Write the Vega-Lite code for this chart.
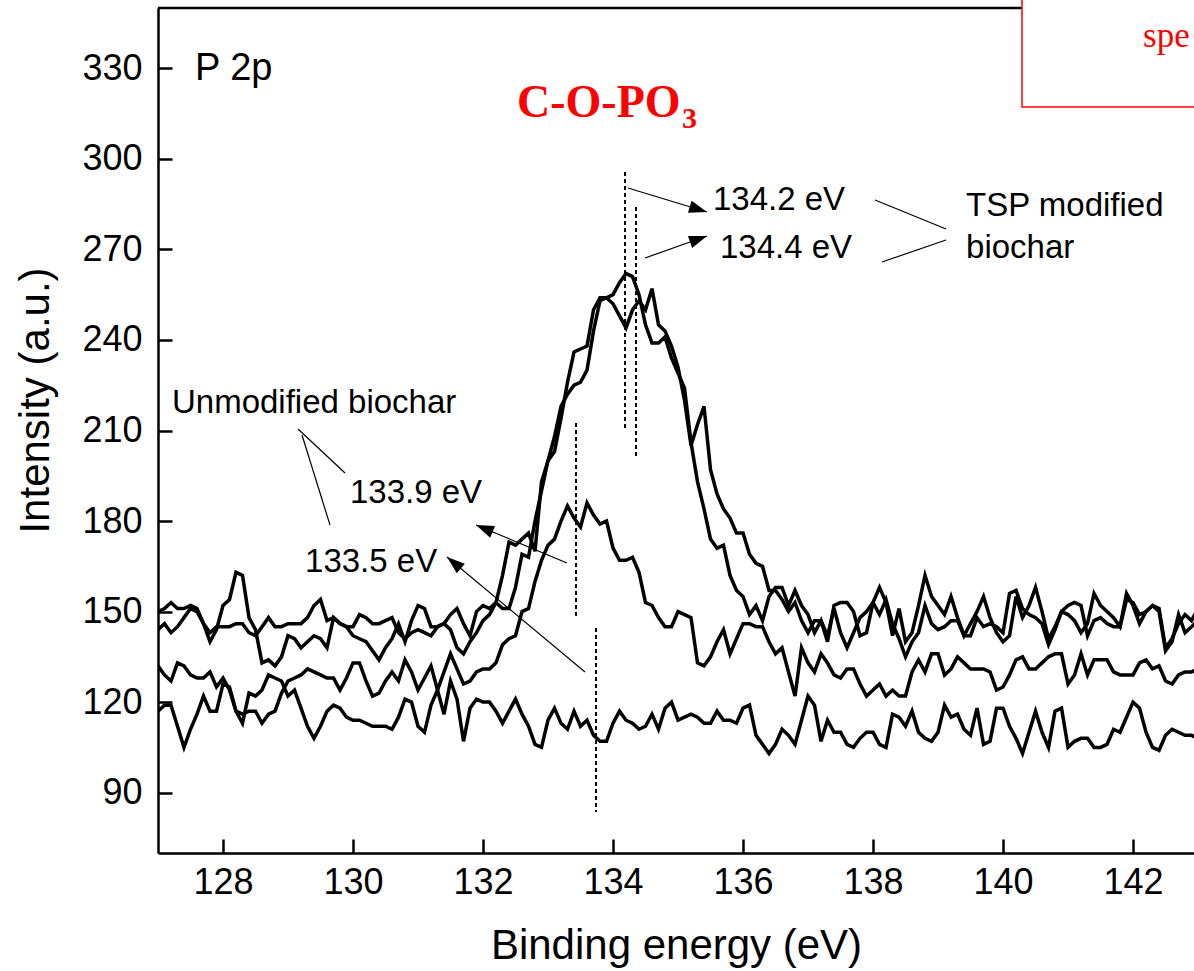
{
  "$schema": "https://vega.github.io/schema/vega-lite/v6.json",
  "width": 1036,
  "height": 845,
  "autosize": {"type": "none"},
  "padding": {"left": 158, "top": 8, "right": 0, "bottom": 118},
  "background": "white",
  "view": {"stroke": null},
  "config": {"font": "Liberation Sans"},
  "datasets": {
    "spec": [
      {"e":127.0,"a":150,"b":144,"c":132,"d":117},{"e":127.1,"a":151,"b":146,"c":129,"d":119},{"e":127.2,"a":153,"b":143,"c":127,"d":119},{"e":127.3,"a":151,"b":145,"c":133,"d":112},{"e":127.4,"a":151,"b":148,"c":132,"d":105},{"e":127.5,"a":152,"b":151,"c":129,"d":111},{"e":127.6,"a":151,"b":150,"c":128,"d":116},{"e":127.7,"a":146,"b":146,"c":128,"d":122},{"e":127.8,"a":140,"b":143,"c":130,"d":117},{"e":127.9,"a":144,"b":145,"c":125,"d":117},
      {"e":128.0,"a":152,"b":145,"c":128,"d":126},{"e":128.1,"a":154,"b":145,"c":124,"d":125},{"e":128.2,"a":163,"b":146,"c":117,"d":117},{"e":128.3,"a":162,"b":146,"c":116,"d":113},{"e":128.4,"a":148,"b":143,"c":117,"d":123},{"e":128.5,"a":144,"b":142,"c":117,"d":122},{"e":128.6,"a":133,"b":145,"c":113,"d":124},{"e":128.7,"a":134,"b":148,"c":116,"d":129},{"e":128.8,"a":132,"b":145,"c":117,"d":128},{"e":128.9,"a":135,"b":145,"c":123,"d":127},
      {"e":129.0,"a":142,"b":146,"c":127,"d":122},{"e":129.1,"a":141,"b":146,"c":128,"d":124},{"e":129.2,"a":138,"b":146,"c":129,"d":118},{"e":129.3,"a":140,"b":148,"c":131,"d":112},{"e":129.4,"a":142,"b":152,"c":130,"d":108},{"e":129.5,"a":141,"b":154,"c":129,"d":112},{"e":129.6,"a":138,"b":147,"c":128,"d":117},{"e":129.7,"a":148,"b":148,"c":128,"d":119},{"e":129.8,"a":146,"b":146,"c":124,"d":118},{"e":129.9,"a":145,"b":145,"c":128,"d":115},
      {"e":130.0,"a":142,"b":145,"c":133,"d":114},{"e":130.1,"a":141,"b":149,"c":133,"d":114},{"e":130.2,"a":140,"b":148,"c":127,"d":113},{"e":130.3,"a":137,"b":146,"c":122,"d":112},{"e":130.4,"a":134,"b":146,"c":123,"d":112},{"e":130.5,"a":138,"b":147,"c":127,"d":112},{"e":130.6,"a":141,"b":148,"c":130,"d":111},{"e":130.7,"a":146,"b":143,"c":127,"d":115},{"e":130.8,"a":140,"b":141,"c":134,"d":121},{"e":130.9,"a":147,"b":143,"c":130,"d":120},
      {"e":131.0,"a":152,"b":144,"c":124,"d":112},{"e":131.1,"a":151,"b":143,"c":128,"d":110},{"e":131.2,"a":145,"b":142,"c":132,"d":119},{"e":131.3,"a":145,"b":145,"c":124,"d":124},{"e":131.4,"a":146,"b":146,"c":130,"d":116},{"e":131.5,"a":149,"b":144,"c":136,"d":127},{"e":131.6,"a":151,"b":138,"c":131,"d":121},{"e":131.7,"a":146,"b":136,"c":126,"d":107},{"e":131.8,"a":142,"b":140,"c":127,"d":118},{"e":131.9,"a":150,"b":143,"c":130,"d":121},
      {"e":132.0,"a":152,"b":147,"c":131,"d":120},{"e":132.1,"a":151,"b":149,"c":131,"d":120},{"e":132.2,"a":153,"b":153,"c":133,"d":117},{"e":132.3,"a":162,"b":151,"c":139,"d":113},{"e":132.4,"a":173,"b":151,"c":141,"d":117},{"e":132.5,"a":172,"b":158,"c":142,"d":121},{"e":132.6,"a":174,"b":169,"c":150,"d":116},{"e":132.7,"a":176,"b":168,"c":151,"d":112},{"e":132.8,"a":170,"b":180,"c":160,"d":106},{"e":132.9,"a":193,"b":190,"c":167,"d":105},
      {"e":133.0,"a":200,"b":200,"c":172,"d":114},{"e":133.1,"a":203,"b":208,"c":174,"d":118},{"e":133.2,"a":214,"b":218,"c":180,"d":113},{"e":133.3,"a":226,"b":222,"c":185,"d":111},{"e":133.4,"a":236,"b":225,"c":181,"d":117},{"e":133.5,"a":237,"b":226,"c":178,"d":112},{"e":133.6,"a":238,"b":230,"c":186,"d":114},{"e":133.7,"a":250,"b":243,"c":182,"d":109},{"e":133.8,"a":254,"b":253,"c":179,"d":107},{"e":133.9,"a":254,"b":254,"c":180,"d":107},
      {"e":134.0,"a":255,"b":252,"c":171,"d":113},{"e":134.1,"a":259,"b":248,"c":167,"d":117},{"e":134.2,"a":262,"b":244,"c":167,"d":114},{"e":134.3,"a":261,"b":250,"c":168,"d":113},{"e":134.4,"a":255,"b":253,"c":163,"d":111},{"e":134.5,"a":245,"b":250,"c":153,"d":112},{"e":134.6,"a":239,"b":257,"c":152,"d":116},{"e":134.7,"a":239,"b":245,"c":148,"d":111},{"e":134.8,"a":241,"b":243,"c":145,"d":118},{"e":134.9,"a":234,"b":238,"c":145,"d":120},
      {"e":135.0,"a":229,"b":231,"c":150,"d":114},{"e":135.1,"a":224,"b":220,"c":149,"d":115},{"e":135.2,"a":206,"b":205,"c":148,"d":116},{"e":135.3,"a":193,"b":212,"c":133,"d":115},{"e":135.4,"a":184,"b":218,"c":132,"d":113},{"e":135.5,"a":174,"b":197,"c":135,"d":113},{"e":135.6,"a":171,"b":189,"c":140,"d":117},{"e":135.7,"a":172,"b":184,"c":144,"d":114},{"e":135.8,"a":162,"b":181,"c":136,"d":114},{"e":135.9,"a":157,"b":176,"c":141,"d":113},
      {"e":136.0,"a":155,"b":176,"c":146,"d":118},{"e":136.1,"a":149,"b":169,"c":146,"d":119},{"e":136.2,"a":152,"b":166,"c":145,"d":109},{"e":136.3,"a":147,"b":165,"c":145,"d":106},{"e":136.4,"a":155,"b":157,"c":140,"d":103},{"e":136.5,"a":158,"b":157,"c":136,"d":106},{"e":136.6,"a":158,"b":154,"c":138,"d":111},{"e":136.7,"a":152,"b":150,"c":130,"d":109},{"e":136.8,"a":157,"b":153,"c":122,"d":106},{"e":136.9,"a":152,"b":147,"c":138,"d":114},
      {"e":137.0,"a":149,"b":143,"c":133,"d":122},{"e":137.1,"a":143,"b":147,"c":130,"d":119},{"e":137.2,"a":147,"b":147,"c":136,"d":107},{"e":137.3,"a":140,"b":142,"c":133,"d":114},{"e":137.4,"a":152,"b":151,"c":129,"d":110},{"e":137.5,"a":153,"b":143,"c":128,"d":110},{"e":137.6,"a":153,"b":138,"c":131,"d":106},{"e":137.7,"a":150,"b":143,"c":131,"d":105},{"e":137.8,"a":142,"b":148,"c":126,"d":108},{"e":137.9,"a":143,"b":150,"c":122,"d":110},
      {"e":138.0,"a":153,"b":153,"c":124,"d":110},{"e":138.1,"a":158,"b":149,"c":126,"d":106},{"e":138.2,"a":153,"b":154,"c":122,"d":105},{"e":138.3,"a":142,"b":146,"c":124,"d":116},{"e":138.4,"a":151,"b":141,"c":122,"d":115},{"e":138.5,"a":140,"b":135,"c":122,"d":112},{"e":138.6,"a":143,"b":140,"c":130,"d":117},{"e":138.7,"a":152,"b":143,"c":134,"d":110},{"e":138.8,"a":162,"b":152,"c":130,"d":108},{"e":138.9,"a":155,"b":146,"c":136,"d":107},
      {"e":139.0,"a":152,"b":144,"c":136,"d":110},{"e":139.1,"a":149,"b":145,"c":129,"d":119},{"e":139.2,"a":155,"b":147,"c":131,"d":115},{"e":139.3,"a":148,"b":147,"c":135,"d":116},{"e":139.4,"a":142,"b":142,"c":133,"d":111},{"e":139.5,"a":146,"b":142,"c":131,"d":109},{"e":139.6,"a":150,"b":148,"c":131,"d":118},{"e":139.7,"a":155,"b":145,"c":131,"d":106},{"e":139.8,"a":148,"b":146,"c":130,"d":107},{"e":139.9,"a":143,"b":145,"c":124,"d":118},
      {"e":140.0,"a":140,"b":143,"c":125,"d":118},{"e":140.1,"a":142,"b":156,"c":129,"d":112},{"e":140.2,"a":155,"b":157,"c":134,"d":108},{"e":140.3,"a":148,"b":151,"c":135,"d":103},{"e":140.4,"a":152,"b":149,"c":131,"d":110},{"e":140.5,"a":158,"b":148,"c":131,"d":117},{"e":140.6,"a":150,"b":146,"c":133,"d":110},{"e":140.7,"a":141,"b":139,"c":135,"d":105},{"e":140.8,"a":145,"b":144,"c":136,"d":117},{"e":140.9,"a":150,"b":150,"c":136,"d":118},
      {"e":141.0,"a":149,"b":152,"c":126,"d":105},{"e":141.1,"a":147,"b":153,"c":129,"d":107},{"e":141.2,"a":143,"b":152,"c":136,"d":108},{"e":141.3,"a":146,"b":142,"c":129,"d":108},{"e":141.4,"a":156,"b":147,"c":134,"d":105},{"e":141.5,"a":152,"b":148,"c":134,"d":105},{"e":141.6,"a":150,"b":146,"c":134,"d":106},{"e":141.7,"a":148,"b":145,"c":130,"d":111},{"e":141.8,"a":145,"b":145,"c":129,"d":110},{"e":141.9,"a":156,"b":154,"c":129,"d":115},
      {"e":142.0,"a":152,"b":153,"c":129,"d":120},{"e":142.1,"a":146,"b":149,"c":133,"d":118},{"e":142.2,"a":150,"b":150,"c":134,"d":110},{"e":142.3,"a":152,"b":152,"c":131,"d":105},{"e":142.4,"a":151,"b":150,"c":132,"d":104},{"e":142.5,"a":138,"b":137,"c":127,"d":109},{"e":142.6,"a":141,"b":140,"c":126,"d":111},{"e":142.7,"a":146,"b":149,"c":129,"d":110},{"e":142.8,"a":149,"b":143,"c":130,"d":109},{"e":142.9,"a":147,"b":145,"c":130,"d":109},
      {"e":143.0,"a":151,"b":147,"c":131,"d":108}
    ],
    "frame": [{"e":127,"v":350,"e2":143,"v2":350}],
    "thin": [
      {"e":134.231,"v":290.36,"e2":135.446,"v2":282.40},
      {"e":134.492,"v":267.16,"e2":135.446,"v2":274.45},
      {"e":138.031,"v":286.38,"e2":139.123,"v2":276.77},
      {"e":138.138,"v":265.83,"e2":139.123,"v2":273.13},
      {"e":129.154,"v":210.5,"e2":129.877,"v2":195.92},
      {"e":129.215,"v":208.51,"e2":129.646,"v2":178.69},
      {"e":133.292,"v":166.10,"e2":131.892,"v2":178.69},
      {"e":133.569,"v":129.98,"e2":131.446,"v2":168.08}
    ],
    "dots": [
      {"e":134.185,"v":295.66,"e2":134.185,"v2":210.17},
      {"e":134.354,"v":284.06,"e2":134.354,"v2":201.55},
      {"e":133.431,"v":212.49,"e2":133.431,"v2":148.20},
      {"e":133.738,"v":144.56,"e2":133.738,"v2":83.59}
    ],
    "head1": [{"e":135.446,"v":282.40}],
    "head2": [{"e":135.446,"v":274.45}],
    "head3": [{"e":131.892,"v":178.69}],
    "head4": [{"e":131.446,"v":168.08}],
    "ann": [
      {"e":135.538,"v":283.07,"label":"134.2 eV"},
      {"e":135.646,"v":267.16,"label":"134.4 eV"},
      {"e":139.431,"v":281.08,"label":"TSP modified"},
      {"e":139.431,"v":267.16,"label":"biochar"},
      {"e":127.215,"v":215.8,"label":"Unmodified biochar"},
      {"e":129.954,"v":185.98,"label":"133.9 eV"},
      {"e":129.262,"v":163.11,"label":"133.5 eV"}
    ],
    "p2p": [{"e":127.569,"v":326.14,"label":"P 2p"}],
    "redmain": [{"e":132.523,"v":313.88,"label":"C-O-PO"}],
    "redsub": [{"e":135.06,"v":310.2,"label":"3"}],
    "box": [{"e":140.292,"v":317.2,"e2":146,"v2":356}],
    "boxtext": [{"e":142.154,"v":337.08,"label":"spe"}]
  },
  "encoding": {
    "x": {
      "field": "e", "type": "quantitative",
      "scale": {"domain": [127, 142.938], "nice": false, "zero": false},
      "axis": {
        "values": [128,130,132,134,136,138,140,142],
        "title": "Binding energy (eV)",
        "titleFont": "Liberation Sans", "titleFontSize": 42, "titleFontWeight": "normal", "titleColor": "black",
        "titleY": 105, "titleBaseline": "alphabetic",
        "labelFont": "Liberation Sans", "labelFontSize": 36, "labelColor": "black", "labelPadding": 26,
        "labelFlush": false, "labelOverlap": false,
        "tickSize": -14, "tickWidth": 2.5, "tickColor": "black",
        "domainColor": "black", "domainWidth": 2.5, "grid": false
      }
    },
    "y": {
      "field": "v", "type": "quantitative",
      "scale": {"domain": [70, 350], "nice": false, "zero": false},
      "axis": {
        "values": [90,120,150,180,210,240,270,300,330],
        "title": "Intensity (a.u.)",
        "titleFont": "Liberation Sans", "titleFontSize": 42, "titleFontWeight": "normal", "titleColor": "black",
        "titleX": -123, "titleY": 392, "titleAngle": -90, "titleBaseline": "middle", "titleAlign": "center",
        "labelFont": "Liberation Sans", "labelFontSize": 36, "labelColor": "black", "labelPadding": 30,
        "labelFlush": false, "labelOverlap": false,
        "tickSize": -14, "tickWidth": 2.5, "tickColor": "black",
        "domainColor": "black", "domainWidth": 2.5, "grid": false
      }
    }
  },
  "layer": [
    {
      "data": {"name": "spec"},
      "transform": [{"fold": ["a","b","c","d"], "as": ["s","v"]}],
      "mark": {"type": "line", "color": "black", "strokeWidth": 3.5, "clip": true},
      "encoding": {"detail": {"field": "s", "type": "nominal"}}
    },
    {
      "data": {"name": "frame"},
      "mark": {"type": "rule", "color": "black", "strokeWidth": 2.5},
      "encoding": {"x2": {"field": "e2"}, "y2": {"field": "v2"}}
    },
    {
      "data": {"name": "dots"},
      "mark": {"type": "rule", "color": "black", "strokeWidth": 2, "strokeDash": [4, 3]},
      "encoding": {"x2": {"field": "e2"}, "y2": {"field": "v2"}}
    },
    {
      "data": {"name": "thin"},
      "mark": {"type": "rule", "color": "black", "strokeWidth": 1.2},
      "encoding": {"x2": {"field": "e2"}, "y2": {"field": "v2"}}
    },
    {
      "data": {"name": "head1"},
      "mark": {"type": "point", "shape": "M0,0L-2,-0.7L-2,0.7Z", "size": 324, "filled": true, "color": "black", "opacity": 1, "angle": 17},
      "encoding": {}
    },
    {
      "data": {"name": "head2"},
      "mark": {"type": "point", "shape": "M0,0L-2,-0.7L-2,0.7Z", "size": 324, "filled": true, "color": "black", "opacity": 1, "angle": -19.5},
      "encoding": {}
    },
    {
      "data": {"name": "head3"},
      "mark": {"type": "point", "shape": "M0,0L-2,-0.7L-2,0.7Z", "size": 324, "filled": true, "color": "black", "opacity": 1, "angle": 202.7},
      "encoding": {}
    },
    {
      "data": {"name": "head4"},
      "mark": {"type": "point", "shape": "M0,0L-2,-0.7L-2,0.7Z", "size": 324, "filled": true, "color": "black", "opacity": 1, "angle": 219.8},
      "encoding": {}
    },
    {
      "data": {"name": "ann"},
      "mark": {"type": "text", "font": "Liberation Sans", "fontSize": 33, "align": "left", "baseline": "alphabetic", "color": "black"},
      "encoding": {"text": {"field": "label"}}
    },
    {
      "data": {"name": "p2p"},
      "mark": {"type": "text", "font": "Liberation Sans", "fontSize": 38, "align": "left", "baseline": "alphabetic", "color": "black"},
      "encoding": {"text": {"field": "label"}}
    },
    {
      "data": {"name": "redmain"},
      "mark": {"type": "text", "font": "Liberation Serif", "fontSize": 46, "fontWeight": "bold", "align": "left", "baseline": "alphabetic", "color": "#ff0000"},
      "encoding": {"text": {"field": "label"}}
    },
    {
      "data": {"name": "redsub"},
      "mark": {"type": "text", "font": "Liberation Serif", "fontSize": 30, "fontWeight": "bold", "align": "left", "baseline": "alphabetic", "color": "#ff0000"},
      "encoding": {"text": {"field": "label"}}
    },
    {
      "data": {"name": "box"},
      "mark": {"type": "rect", "fill": "white", "stroke": "#ff0000", "strokeWidth": 1.5},
      "encoding": {"x2": {"field": "e2"}, "y2": {"field": "v2"}}
    },
    {
      "data": {"name": "boxtext"},
      "mark": {"type": "text", "font": "Liberation Serif", "fontSize": 35, "align": "left", "baseline": "alphabetic", "color": "#ff0000"},
      "encoding": {"text": {"field": "label"}}
    }
  ]
}
